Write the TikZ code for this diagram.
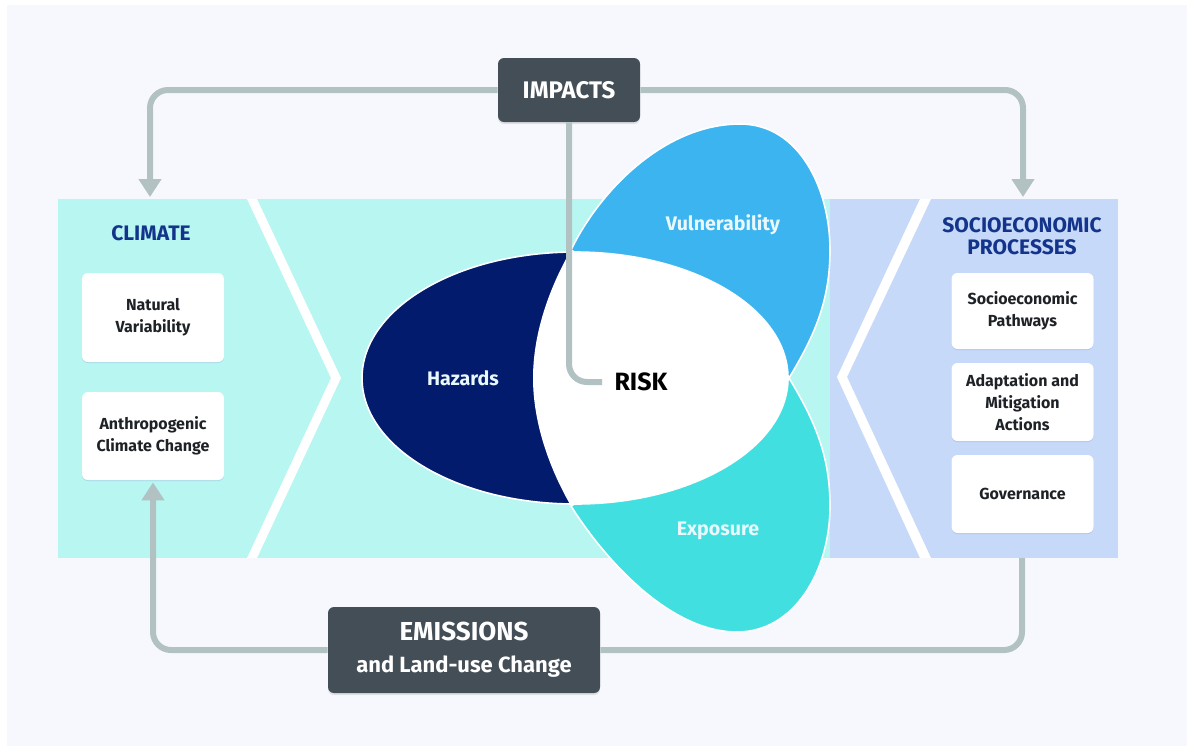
\documentclass[tikz,border=0pt]{standalone}
\usepackage{fontspec}
\setmainfont{Fira Sans}
\usetikzlibrary{arrows.meta}
\usetikzlibrary{shadows}

\definecolor{pagebg}{HTML}{F7F8FD}
\definecolor{cyanband}{HTML}{B7F6F1}
\definecolor{lavender}{HTML}{C7D9F9}
\definecolor{hazardnavy}{HTML}{031B6C}
\definecolor{vulnblue}{HTML}{3BB4F0}
\definecolor{exposteal}{HTML}{42DFE0}
\definecolor{linegray}{HTML}{B2C2C3}
\definecolor{boxgray}{HTML}{444E56}
\definecolor{titleblue}{HTML}{13348A}
\definecolor{petalwhite}{HTML}{E8F8FC}
\definecolor{boxtext}{HTML}{1E2226}

\begin{document}
\begin{tikzpicture}[x=0.5pt,y=-0.5pt,
  conn/.style={draw=linegray,line width=3pt,rounded corners=9pt},
  conn arrow/.style={conn,-{Triangle[width=11pt,length=9pt]}},
  darkbox/.style={fill=boxgray,rounded corners=3pt,text=white,align=center,
    drop shadow={opacity=0.2,shadow xshift=0pt,shadow yshift=-1pt}},
  whitebox/.style={fill=white,rounded corners=3pt,minimum width=71pt,text=boxtext,
    align=center,font=\bfseries\fontsize{8}{11}\selectfont,
    drop shadow={color=blue!40!gray,opacity=0.15,shadow xshift=0pt,shadow yshift=-0.5pt}},
  petal/.style={draw=white,line width=0.8pt},
  petaltext/.style={text=petalwhite,font=\bfseries\fontsize{9.8}{12}\selectfont},
  heading/.style={text=titleblue,align=center,font=\bfseries\fontsize{10.5}{11}\selectfont}]
\useasboundingbox (0,0) rectangle (1187,746);
\fill[white] (0,0) rectangle (1187,746);
\fill[pagebg] (7,5) rectangle (1187,746);

% bands
\fill[cyanband] (58,199) rectangle (830,558);
\fill[lavender] (830,199) rectangle (1118,558);
\fill[white] (247,199) -- (257,199) -- (341,378) -- (257,558) -- (247,558) -- (331,378) -- cycle;
\fill[white] (931,199) -- (920,199) -- (837,377) -- (920,558) -- (931,558) -- (847,377) -- cycle;

% petals
\draw[petal,fill=vulnblue] (571,250) .. controls (600,190) and (665,124) .. (740,124)
  .. controls (800,124) and (830,190) .. (830,250)
  .. controls (830,300) and (815,335) .. (789,378) -- cycle;
\draw[petal,fill=exposteal] (789,378) .. controls (815,421) and (830,456) .. (830,506)
  .. controls (830,570) and (795,632) .. (737,632)
  .. controls (670,632) and (605,560) .. (571,506) -- cycle;
\draw[petal,fill=hazardnavy] (575,378) ellipse [x radius=213,y radius=126];
\begin{scope}
\clip (575,378) ellipse [x radius=213,y radius=126];
\fill[white] (571,250) .. controls (548,290) and (533,335) .. (533,378)
  .. controls (533,421) and (548,466) .. (571,506) -- (800,506) -- (800,250) -- cycle;
\end{scope}

\node[petaltext] (hazards) at (463,378) {Hazards};
\node[petaltext] (vulnerability) at (723,225) {Vulnerability};
\node[petaltext] (exposure) at (718,531) {Exposure};
\node[text=black,inner sep=6pt,font=\bfseries\fontsize{12.5}{14}\selectfont] (risk) at (641,382) {RISK};

% side panels
\node[heading] (climate) at (151,233) {CLIMATE};
\node[heading] (socio) at (1022,236) {SOCIOECONOMIC\\PROCESSES};
\node[whitebox,minimum height=44.5pt] (natural) at (153,317.5) {Natural\\Variability};
\node[whitebox,minimum height=44pt] (anthro) at (153,436) {Anthropogenic\\Climate Change};
\node[whitebox,minimum height=38pt] (pathways) at (1022.5,311) {Socioeconomic\\Pathways};
\node[whitebox,minimum height=39pt] (adapt) at (1022.5,402) {Adaptation and\\Mitigation\\Actions};
\node[whitebox,minimum height=39pt] (govern) at (1022.5,494) {Governance};

% dark boxes
\node[darkbox,minimum width=71pt,minimum height=32pt,font=\bfseries\fontsize{12}{14}\selectfont] (impacts) at (569,90) {IMPACTS};
\node[darkbox,minimum width=136pt,minimum height=43pt,font=\bfseries\fontsize{11}{16}\selectfont] (emissions) at (464,650) {{\fontsize{13}{16}\selectfont EMISSIONS}\\and Land-use Change};

\coordinate (climtop) at (150,197);
\coordinate (sociotop) at (1023,197);
\coordinate (sociobot) at (1022,558);

\draw[conn arrow] (impacts.west) -| (climtop);
\draw[conn arrow] (impacts.east) -| (sociotop);
\draw[conn] (impacts.south) |- (risk.west);
\draw[conn] (sociobot) |- (emissions.east);
\draw[conn arrow,shorten >=1pt] (emissions.west) -| (anthro.south);
\end{tikzpicture}
\end{document}
